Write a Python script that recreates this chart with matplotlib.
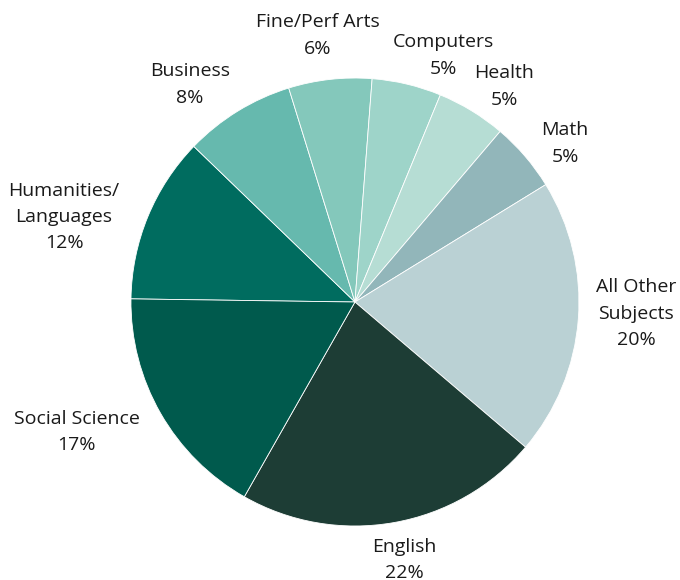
import matplotlib.pyplot as plt
import numpy as np

# slices in clockwise order starting from the left (9 o'clock)
subjects = ["Humanities/\nLanguages", "Business", "Fine/Perf Arts", "Computers",
            "Health", "Math", "All Other\nSubjects", "English", "Social Science"]
shares = [12, 8, 6, 5, 5, 5, 20, 22, 17]
colors = ["#006c5f", "#66b9ae", "#84c8bb", "#9ed4c9", "#b6ddd4",
          "#92b6ba", "#bad1d4", "#1d3d35", "#005a4d"]

# label layout: radial distance and angular nudge (degrees) per slice
label_dist = [1.353, 1.219, 1.201, 1.168, 1.170, 1.175, 1.256, 1.172, 1.371]
label_nudge = [6.1, 5.6, 1.5, -6.3, -3.3, -3.6, 2.0, 0.8, -4.7]

fig = plt.figure(figsize=(6.8, 5.8), dpi=100)
ax = fig.add_axes([0.1926, 0.0931, 0.6588, 0.7724])

wedges, _ = ax.pie(shares, colors=colors, startangle=179.2, counterclock=False,
                   wedgeprops=dict(edgecolor="white", linewidth=0.6))
ax.set_xlim(-1, 1)
ax.set_ylim(-1, 1)
ax.set_aspect("equal")

for w, name, val, d, nd in zip(wedges, subjects, shares, label_dist, label_nudge):
    mid = np.deg2rad((w.theta1 + w.theta2) / 2 + nd)
    ax.text(d * np.cos(mid), d * np.sin(mid), name + "\n" + str(val) + "%",
            ha="center", va="center", fontsize=14, family="Open Sans",
            color="#1a1a1a", linespacing=1.6, clip_on=False)

fig.savefig("out.png", dpi=100)
